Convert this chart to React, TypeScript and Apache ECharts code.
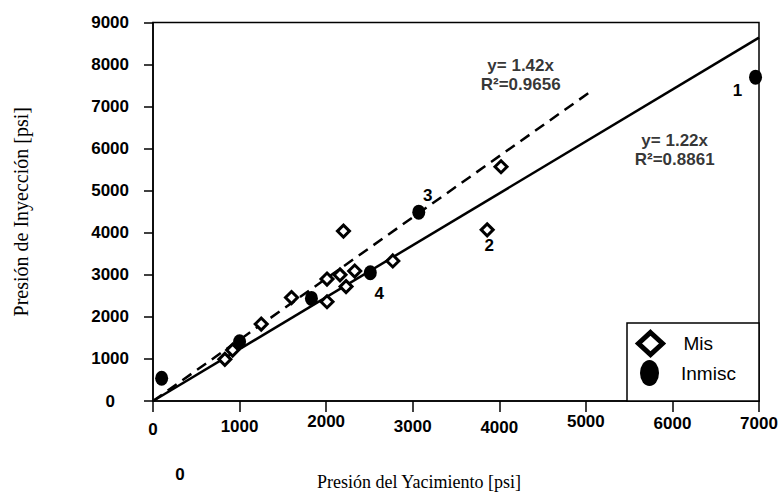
import React, { useEffect, useRef } from 'react';
import * as echarts from 'echarts';

// ---- data ----
const misPoints: [number, number][] = [
  [830, 990], [920, 1210], [1250, 1830], [1600, 2460], [2010, 2360],
  [2010, 2900], [2160, 3000], [2230, 2720], [2330, 3090], [2770, 3330],
  [2200, 4040], [3860, 4070], [4020, 5570],
];
const misLabels = ['', '', '', '', '', '', '', '', '', '', '', '2', ''];

const inmiscPoints: [number, number][] = [
  [100, 540], [1000, 1410], [1830, 2440], [2510, 3050], [3070, 4490], [6960, 7700],
];
const inmiscLabels = ['', '', '', '4', '3', '1'];

const solidTrend: [number, number][] = [[0, 0], [7000, 8640]];
const dashedTrend: [number, number][] = [[0, 0], [5050, 7350]];

const equationTexts = ['y= 1.42x\nR²=0.9656', 'y= 1.22x\nR²=0.8861'];
const equationAnchors: [number, number][] = [[4247, 7740], [6026, 5960]];

const xMin = 0, xMax = 7000, xStep = 1000;
const yMin = 0, yMax = 9000, yStep = 1000;

const xTitle = 'Presión del Yacimiento [psi]';
const yTitle = 'Presión de Inyección [psi]';
const seriesNames = ['Mis', 'Inmisc'];

const SANS = '"Liberation Sans", Arial, sans-serif';
const SERIF = '"Liberation Serif", "Times New Roman", serif';
const ELLIPSE = 'path://M0,-13A9.5,13 0 1,1 0,13A9.5,13 0 1,1 0,-13Z';

const labelOffsets: Record<string, [number, number]> = {
  '1': [-18, 13],
  '2': [2, 16],
  '3': [9, -17],
  '4': [9, 21],
};

// vertical jitter of the x tick labels in the scanned original
const xLabelPad: Record<number, number> = { 0: 8, 1000: 5, 2000: 0, 3000: 5, 4000: 6, 5000: 0, 6000: 2, 7000: 2 };

export default function App() {
  const ref = useRef<HTMLDivElement>(null);
  useEffect(() => {
    if (!ref.current) return;
    const chart = echarts.init(ref.current, undefined, { renderer: 'svg' });

    const pointLabel = (txt: string) =>
      txt
        ? {
            show: true,
            position: 'inside' as const,
            formatter: txt,
            offset: labelOffsets[txt],
            color: '#000',
            fontFamily: SANS,
            fontWeight: 'bold' as const,
            fontSize: 17,
          }
        : { show: false };

    const xRich: Record<string, any> = {};
    Object.keys(xLabelPad).forEach((k) => {
      xRich['p' + k] = {
        padding: [xLabelPad[Number(k)], 0, 0, 0],
        fontSize: 17,
        fontWeight: 'bold',
        fontFamily: SANS,
        color: '#000',
      };
    });

    chart.setOption({
      animation: false,
      backgroundColor: '#fff',
      grid: {
        left: 153,
        top: 22.5,
        right: 22,
        bottom: 96,
        show: true,
        borderColor: '#000',
        borderWidth: 1.5,
        backgroundColor: 'transparent',
      },
      xAxis: {
        type: 'value',
        min: xMin,
        max: xMax,
        interval: xStep,
        name: xTitle,
        nameLocation: 'middle',
        nameGap: 72,
        nameTextStyle: { fontFamily: SERIF, fontSize: 18, color: '#000', padding: [0, 74, 0, 0] },
        axisLine: { onZero: false, lineStyle: { color: '#000', width: 1.5 } },
        axisTick: { show: true, length: 11, lineStyle: { color: '#000', width: 1.5 } },
        splitLine: { show: false },
        axisLabel: {
          margin: 12,
          formatter: (v: number) => (xLabelPad[v] !== undefined ? `{p${v}|${v}}` : String(v)),
          rich: xRich,
          fontSize: 17,
          fontWeight: 'bold',
          fontFamily: SANS,
          color: '#000',
        },
      },
      yAxis: {
        type: 'value',
        min: yMin,
        max: yMax,
        interval: yStep,
        name: yTitle,
        nameLocation: 'middle',
        nameGap: 122,
        nameTextStyle: { fontFamily: SERIF, fontSize: 20, color: '#000' },
        axisLine: { onZero: false, lineStyle: { color: '#000', width: 1.5 } },
        axisTick: { show: true, length: 9, lineStyle: { color: '#000', width: 1.5 } },
        splitLine: { show: false },
        axisLabel: {
          margin: 24,
          formatter: (v: number) => (v === 0 ? '{z|0}' : String(v)),
          rich: {
            z: { padding: [0, 14, 0, 0], fontSize: 17, fontWeight: 'bold', fontFamily: SANS, color: '#000' },
          },
          fontSize: 17,
          fontWeight: 'bold',
          fontFamily: SANS,
          color: '#000',
        },
      },
      legend: [
        {
          data: [
            {
              name: seriesNames[0],
              icon: 'diamond',
              itemStyle: { color: '#fff', borderColor: '#000', borderWidth: 5 },
              textStyle: { padding: [0, 0, 8, 16] },
            },
          ],
          left: 636,
          top: 330,
          padding: 0,
          itemWidth: 24,
          itemHeight: 22,
          selectedMode: false,
          textStyle: { fontSize: 19, fontFamily: SANS, color: '#000' },
          z: 10,
        },
        {
          data: [
            {
              name: seriesNames[1],
              icon: ELLIPSE,
              itemStyle: { color: '#000', borderWidth: 0 },
              textStyle: { padding: [0, 0, 18, 17] },
            },
          ],
          left: 640,
          top: 360,
          padding: 0,
          itemWidth: 19,
          itemHeight: 26,
          selectedMode: false,
          textStyle: { fontSize: 19, fontFamily: SANS, color: '#000' },
          z: 10,
        },
      ],
      graphic: [
        {
          type: 'rect',
          shape: { x: 627, y: 323, width: 132, height: 78 },
          style: { fill: '#fff', stroke: '#000', lineWidth: 1.5 },
          z: 5,
        },
        {
          type: 'text',
          x: 180,
          y: 474,
          style: {
            text: '0',
            fill: '#000',
            font: `bold 17px ${SANS}`,
            textAlign: 'center',
            textVerticalAlign: 'middle',
          },
        },
      ],
      series: [
        {
          name: 'trend-solid',
          type: 'line',
          data: solidTrend,
          symbol: 'none',
          silent: true,
          lineStyle: { color: '#000', width: 2.5, type: 'solid' },
          z: 2,
        },
        {
          name: 'trend-dashed',
          type: 'line',
          data: dashedTrend,
          symbol: 'none',
          silent: true,
          lineStyle: { color: '#000', width: 2.5, type: [11, 7] },
          z: 2,
        },
        {
          name: seriesNames[0],
          type: 'scatter',
          symbol: 'diamond',
          symbolSize: 12,
          itemStyle: { color: '#fff', borderColor: '#000', borderWidth: 3, opacity: 1 },
          data: misPoints.map((p, i) => ({ value: p, label: pointLabel(misLabels[i]) })),
          z: 3,
        },
        {
          name: seriesNames[1],
          type: 'scatter',
          symbol: ELLIPSE,
          symbolSize: [13, 15],
          itemStyle: { color: '#000', opacity: 1 },
          data: inmiscPoints.map((p, i) => ({ value: p, label: pointLabel(inmiscLabels[i]) })),
          z: 4,
        },
        {
          name: 'equations',
          type: 'scatter',
          symbolSize: 1,
          silent: true,
          itemStyle: { color: 'transparent' },
          data: equationAnchors.map((p, i) => ({
            value: p,
            label: {
              show: true,
              position: 'inside',
              formatter: equationTexts[i],
              color: '#000',
              fontFamily: SANS,
              fontWeight: 'bold',
              fontSize: 17,
              lineHeight: 19,
              align: 'center',
            },
          })),
          z: 4,
        },
      ],
    });
    return () => chart.dispose();
  }, []);
  return <div ref={ref} style={{ position: 'fixed', left: 0, top: 0, width: 781, height: 497 }} />;
}
